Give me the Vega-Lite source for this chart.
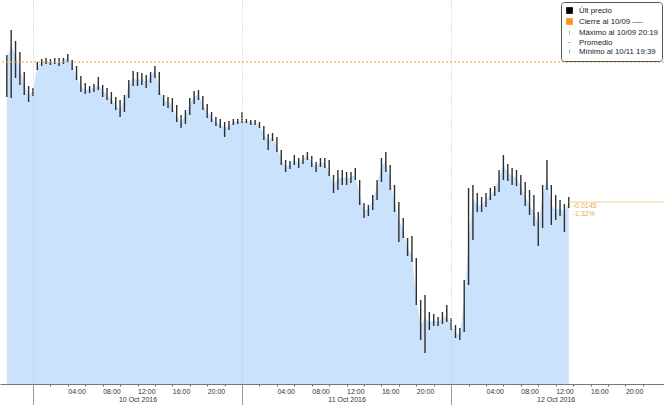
{
  "$schema": "https://vega.github.io/schema/vega-lite/v6.json",
  "width": 664,
  "height": 384,
  "autosize": {"type": "none"},
  "padding": {"left": 0, "right": 0, "top": 0, "bottom": 21},
  "background": "white",
  "config": {"view": {"stroke": null}, "font": "Liberation Sans"},
  "datasets": {
    "px": [
      {"t":"2016-10-09T21:00","h":1.0992,"l":1.0950,"c":1.0987},
      {"t":"2016-10-09T21:30","h":1.1017,"l":1.0949,"c":1.1002},
      {"t":"2016-10-09T22:00","h":1.1006,"l":1.0969,"c":1.0992},
      {"t":"2016-10-09T22:30","h":1.0995,"l":1.0962,"c":1.0977},
      {"t":"2016-10-09T23:00","h":1.0975,"l":1.0952,"c":1.0962},
      {"t":"2016-10-09T23:30","h":1.0961,"l":1.0945,"c":1.0952},
      {"t":"2016-10-10T00:00","h":1.0959,"l":1.0951,"c":1.0956},
      {"t":"2016-10-10T00:30","h":1.0985,"l":1.0977,"c":1.0981},
      {"t":"2016-10-10T01:00","h":1.0988,"l":1.0981,"c":1.0985},
      {"t":"2016-10-10T01:30","h":1.0989,"l":1.0983,"c":1.0986},
      {"t":"2016-10-10T02:00","h":1.0988,"l":1.0982,"c":1.0985},
      {"t":"2016-10-10T02:30","h":1.0989,"l":1.0983,"c":1.0986},
      {"t":"2016-10-10T03:00","h":1.0989,"l":1.0981,"c":1.0984},
      {"t":"2016-10-10T03:30","h":1.0989,"l":1.0983,"c":1.0987},
      {"t":"2016-10-10T04:00","h":1.0993,"l":1.0985,"c":1.0989},
      {"t":"2016-10-10T04:30","h":1.0987,"l":1.0977,"c":1.0981},
      {"t":"2016-10-10T05:00","h":1.0981,"l":1.0967,"c":1.0971},
      {"t":"2016-10-10T05:30","h":1.0971,"l":1.0955,"c":1.0961},
      {"t":"2016-10-10T06:00","h":1.0964,"l":1.0953,"c":1.0957},
      {"t":"2016-10-10T06:30","h":1.0961,"l":1.0954,"c":1.0958},
      {"t":"2016-10-10T07:00","h":1.0963,"l":1.0955,"c":1.0959},
      {"t":"2016-10-10T07:30","h":1.0970,"l":1.0957,"c":1.0962},
      {"t":"2016-10-10T08:00","h":1.0962,"l":1.0950,"c":1.0957},
      {"t":"2016-10-10T08:30","h":1.0959,"l":1.0947,"c":1.0952},
      {"t":"2016-10-10T09:00","h":1.0955,"l":1.0943,"c":1.0948},
      {"t":"2016-10-10T09:30","h":1.0950,"l":1.0937,"c":1.0942},
      {"t":"2016-10-10T10:00","h":1.0947,"l":1.0930,"c":1.0937},
      {"t":"2016-10-10T10:30","h":1.0952,"l":1.0935,"c":1.0947},
      {"t":"2016-10-10T11:00","h":1.0967,"l":1.0949,"c":1.0962},
      {"t":"2016-10-10T11:30","h":1.0976,"l":1.0961,"c":1.0969},
      {"t":"2016-10-10T12:00","h":1.0975,"l":1.0961,"c":1.0967},
      {"t":"2016-10-10T12:30","h":1.0974,"l":1.0962,"c":1.0968},
      {"t":"2016-10-10T13:00","h":1.0972,"l":1.0959,"c":1.0965},
      {"t":"2016-10-10T13:30","h":1.0975,"l":1.0964,"c":1.0971},
      {"t":"2016-10-10T14:00","h":1.0981,"l":1.0969,"c":1.0977},
      {"t":"2016-10-10T14:30","h":1.0975,"l":1.0952,"c":1.0959},
      {"t":"2016-10-10T15:00","h":1.0952,"l":1.0941,"c":1.0947},
      {"t":"2016-10-10T15:30","h":1.0950,"l":1.0939,"c":1.0945},
      {"t":"2016-10-10T16:00","h":1.0949,"l":1.0935,"c":1.0941},
      {"t":"2016-10-10T16:30","h":1.0942,"l":1.0925,"c":1.0931},
      {"t":"2016-10-10T17:00","h":1.0932,"l":1.0919,"c":1.0925},
      {"t":"2016-10-10T17:30","h":1.0937,"l":1.0923,"c":1.0932},
      {"t":"2016-10-10T18:00","h":1.0949,"l":1.0932,"c":1.0943},
      {"t":"2016-10-10T18:30","h":1.0956,"l":1.0943,"c":1.0951},
      {"t":"2016-10-10T19:00","h":1.0957,"l":1.0947,"c":1.0952},
      {"t":"2016-10-10T19:30","h":1.0951,"l":1.0937,"c":1.0943},
      {"t":"2016-10-10T20:00","h":1.0943,"l":1.0929,"c":1.0935},
      {"t":"2016-10-10T20:30","h":1.0935,"l":1.0925,"c":1.0929},
      {"t":"2016-10-10T21:00","h":1.0930,"l":1.0921,"c":1.0925},
      {"t":"2016-10-10T21:30","h":1.0928,"l":1.0919,"c":1.0923},
      {"t":"2016-10-10T22:00","h":1.0925,"l":1.0910,"c":1.0919},
      {"t":"2016-10-10T22:30","h":1.0926,"l":1.0917,"c":1.0921},
      {"t":"2016-10-10T23:00","h":1.0928,"l":1.0922,"c":1.0925},
      {"t":"2016-10-10T23:30","h":1.0928,"l":1.0923,"c":1.0926},
      {"t":"2016-10-11T00:00","h":1.0935,"l":1.0924,"c":1.0926},
      {"t":"2016-10-11T00:30","h":1.0928,"l":1.0924,"c":1.0926},
      {"t":"2016-10-11T01:00","h":1.0927,"l":1.0922,"c":1.0925},
      {"t":"2016-10-11T01:30","h":1.0927,"l":1.0922,"c":1.0924},
      {"t":"2016-10-11T02:00","h":1.0925,"l":1.0919,"c":1.0922},
      {"t":"2016-10-11T02:30","h":1.0921,"l":1.0907,"c":1.0913},
      {"t":"2016-10-11T03:00","h":1.0913,"l":1.0897,"c":1.0907},
      {"t":"2016-10-11T03:30","h":1.0914,"l":1.0906,"c":1.0910},
      {"t":"2016-10-11T04:00","h":1.0910,"l":1.0895,"c":1.0901},
      {"t":"2016-10-11T04:30","h":1.0897,"l":1.0882,"c":1.0887},
      {"t":"2016-10-11T05:00","h":1.0887,"l":1.0875,"c":1.0881},
      {"t":"2016-10-11T05:30","h":1.0886,"l":1.0878,"c":1.0882},
      {"t":"2016-10-11T06:00","h":1.0892,"l":1.0882,"c":1.0887},
      {"t":"2016-10-11T06:30","h":1.0889,"l":1.0879,"c":1.0884},
      {"t":"2016-10-11T07:00","h":1.0892,"l":1.0883,"c":1.0889},
      {"t":"2016-10-11T07:30","h":1.0895,"l":1.0887,"c":1.0891},
      {"t":"2016-10-11T08:00","h":1.0891,"l":1.0880,"c":1.0885},
      {"t":"2016-10-11T08:30","h":1.0885,"l":1.0875,"c":1.0880},
      {"t":"2016-10-11T09:00","h":1.0889,"l":1.0880,"c":1.0885},
      {"t":"2016-10-11T09:30","h":1.0889,"l":1.0879,"c":1.0884},
      {"t":"2016-10-11T10:00","h":1.0887,"l":1.0871,"c":1.0875},
      {"t":"2016-10-11T10:30","h":1.0872,"l":1.0854,"c":1.0862},
      {"t":"2016-10-11T11:00","h":1.0877,"l":1.0857,"c":1.0869},
      {"t":"2016-10-11T11:30","h":1.0877,"l":1.0862,"c":1.0869},
      {"t":"2016-10-11T12:00","h":1.0875,"l":1.0862,"c":1.0869},
      {"t":"2016-10-11T12:30","h":1.0875,"l":1.0864,"c":1.0870},
      {"t":"2016-10-11T13:00","h":1.0879,"l":1.0867,"c":1.0872},
      {"t":"2016-10-11T13:30","h":1.0867,"l":1.0842,"c":1.0852},
      {"t":"2016-10-11T14:00","h":1.0844,"l":1.0829,"c":1.0837},
      {"t":"2016-10-11T14:30","h":1.0842,"l":1.0831,"c":1.0837},
      {"t":"2016-10-11T15:00","h":1.0852,"l":1.0837,"c":1.0847},
      {"t":"2016-10-11T15:30","h":1.0867,"l":1.0847,"c":1.0861},
      {"t":"2016-10-11T16:00","h":1.0889,"l":1.0865,"c":1.0882},
      {"t":"2016-10-11T16:30","h":1.0895,"l":1.0875,"c":1.0885},
      {"t":"2016-10-11T17:00","h":1.0882,"l":1.0857,"c":1.0867},
      {"t":"2016-10-11T17:30","h":1.0862,"l":1.0835,"c":1.0845},
      {"t":"2016-10-11T18:00","h":1.0845,"l":1.0805,"c":1.0827},
      {"t":"2016-10-11T18:30","h":1.0829,"l":1.0809,"c":1.0817},
      {"t":"2016-10-11T19:00","h":1.0809,"l":1.0791,"c":1.0799},
      {"t":"2016-10-11T19:30","h":1.0811,"l":1.0785,"c":1.0792},
      {"t":"2016-10-11T20:00","h":1.0789,"l":1.0742,"c":1.0749},
      {"t":"2016-10-11T20:30","h":1.0747,"l":1.0707,"c":1.0722},
      {"t":"2016-10-11T21:00","h":1.0752,"l":1.0694,"c":1.0729},
      {"t":"2016-10-11T21:30","h":1.0735,"l":1.0717,"c":1.0725},
      {"t":"2016-10-11T22:00","h":1.0733,"l":1.0721,"c":1.0727},
      {"t":"2016-10-11T22:30","h":1.0730,"l":1.0721,"c":1.0725},
      {"t":"2016-10-11T23:00","h":1.0735,"l":1.0723,"c":1.0729},
      {"t":"2016-10-11T23:30","h":1.0742,"l":1.0725,"c":1.0731},
      {"t":"2016-10-12T00:00","h":1.0729,"l":1.0717,"c":1.0722},
      {"t":"2016-10-12T00:30","h":1.0722,"l":1.0709,"c":1.0714},
      {"t":"2016-10-12T01:00","h":1.0719,"l":1.0707,"c":1.0712},
      {"t":"2016-10-12T01:30","h":1.0767,"l":1.0715,"c":1.0747},
      {"t":"2016-10-12T02:00","h":1.0859,"l":1.0762,"c":1.0807},
      {"t":"2016-10-12T02:30","h":1.0862,"l":1.0807,"c":1.0849},
      {"t":"2016-10-12T03:00","h":1.0854,"l":1.0835,"c":1.0842},
      {"t":"2016-10-12T03:30","h":1.0850,"l":1.0835,"c":1.0842},
      {"t":"2016-10-12T04:00","h":1.0854,"l":1.0840,"c":1.0847},
      {"t":"2016-10-12T04:30","h":1.0859,"l":1.0847,"c":1.0852},
      {"t":"2016-10-12T05:00","h":1.0861,"l":1.0851,"c":1.0857},
      {"t":"2016-10-12T05:30","h":1.0877,"l":1.0855,"c":1.0869},
      {"t":"2016-10-12T06:00","h":1.0892,"l":1.0867,"c":1.0882},
      {"t":"2016-10-12T06:30","h":1.0883,"l":1.0866,"c":1.0875},
      {"t":"2016-10-12T07:00","h":1.0879,"l":1.0862,"c":1.0871},
      {"t":"2016-10-12T07:30","h":1.0877,"l":1.0861,"c":1.0869},
      {"t":"2016-10-12T08:00","h":1.0872,"l":1.0852,"c":1.0861},
      {"t":"2016-10-12T08:30","h":1.0865,"l":1.0841,"c":1.0851},
      {"t":"2016-10-12T09:00","h":1.0857,"l":1.0832,"c":1.0842},
      {"t":"2016-10-12T09:30","h":1.0852,"l":1.0821,"c":1.0835},
      {"t":"2016-10-12T10:00","h":1.0835,"l":1.0801,"c":1.0822},
      {"t":"2016-10-12T10:30","h":1.0862,"l":1.0819,"c":1.0852},
      {"t":"2016-10-12T11:00","h":1.0887,"l":1.0857,"c":1.0869},
      {"t":"2016-10-12T11:30","h":1.0862,"l":1.0822,"c":1.0842},
      {"t":"2016-10-12T12:00","h":1.0852,"l":1.0827,"c":1.0837},
      {"t":"2016-10-12T12:30","h":1.0847,"l":1.0831,"c":1.0839},
      {"t":"2016-10-12T13:00","h":1.0843,"l":1.0815,"c":1.0835},
      {"t":"2016-10-12T13:30","h":1.0850,"l":1.0839,"c":1.0845}
    ],
    "last": [{"t":"2016-10-12T13:30","t2":"2016-10-13T00:26","p":1.0845}],
    "lbl": [
      {"t":"2016-10-12T13:30","p":1.0841,"s":"-0.0145"},
      {"t":"2016-10-12T13:30","p":1.0833,"s":"-1.32%"}
    ],
    "leg": [
      {"k":"Últ precio","t":"2016-10-10T12:00","p":1.0700},
      {"k":"Cierre al 10/09 ----","t":"2016-10-10T12:00","p":1.0700},
      {"k":"Máximo al 10/09 20:19","t":"2016-10-10T12:00","p":1.0700},
      {"k":"Promedio","t":"2016-10-10T12:00","p":1.0700},
      {"k":"Mínimo al 10/11 19:39","t":"2016-10-10T12:00","p":1.0700}
    ]
  },
  "resolve": {"axis": {"x": "independent"}},
  "layer": [
    {
      "data": {"name": "px"},
      "mark": {"type": "area", "color": "#cae2fb"},
      "encoding": {
        "x": {
          "field": "t", "type": "temporal",
          "scale": {"domain": ["2016-10-09T20:13", "2016-10-13T00:26"]},
          "axis": {
            "orient": "bottom", "title": null,
            "values": ["2016-10-10T02:00","2016-10-10T04:00","2016-10-10T06:00","2016-10-10T08:00","2016-10-10T10:00","2016-10-10T12:00","2016-10-10T14:00","2016-10-10T16:00","2016-10-10T18:00","2016-10-10T20:00","2016-10-10T22:00","2016-10-11T02:00","2016-10-11T04:00","2016-10-11T06:00","2016-10-11T08:00","2016-10-11T10:00","2016-10-11T12:00","2016-10-11T14:00","2016-10-11T16:00","2016-10-11T18:00","2016-10-11T20:00","2016-10-11T22:00","2016-10-12T02:00","2016-10-12T04:00","2016-10-12T06:00","2016-10-12T08:00","2016-10-12T10:00","2016-10-12T12:00","2016-10-12T14:00","2016-10-12T16:00","2016-10-12T18:00","2016-10-12T20:00","2016-10-12T22:00"],
            "labelExpr": "hours(datum.value)%4==0 ? timeFormat(datum.value,'%H:%M') : ''",
            "labelAlign": "left", "labelFontSize": 7, "labelColor": "#333",
            "labelPadding": 1, "labelOverlap": false, "labelFlush": false,
            "domainColor": "#777", "tickColor": "#666", "tickSize": 2,
            "grid": false
          }
        },
        "y": {"field": "c", "type": "quantitative", "scale": {"domain": [1.0663, 1.1047], "nice": false, "zero": false}, "axis": null},
        "y2": {"datum": 1.0663}
      }
    },
    {
      "data": {"name": "px"},
      "mark": {"type": "rule", "color": "#2e2e2e", "strokeWidth": 1.4},
      "encoding": {
        "x": {
          "field": "t", "type": "temporal",
          "axis": {
            "orient": "bottom", "title": null,
            "values": ["2016-10-10T00:00", "2016-10-11T00:00", "2016-10-12T00:00"],
            "labels": false, "domain": false, "tickSize": 21, "tickColor": "#999",
            "grid": true, "gridColor": "#c4c4c4", "gridDash": [1, 2], "zindex": 1
          }
        },
        "y": {"field": "l", "type": "quantitative", "axis": null},
        "y2": {"field": "h"}
      }
    },
    {
      "data": {"values": [{}]},
      "mark": {"type": "rule", "color": "#f39a30", "strokeDash": [2, 2], "strokeWidth": 1},
      "encoding": {"y": {"datum": 1.0985, "type": "quantitative", "axis": null}}
    },
    {
      "data": {"name": "last"},
      "mark": {"type": "rule", "color": "#f4cd88", "strokeWidth": 1},
      "encoding": {
        "x": {
          "field": "t", "type": "temporal",
          "axis": {
            "orient": "bottom", "title": null,
            "values": ["2016-10-10T12:00", "2016-10-11T12:00", "2016-10-12T12:00"],
            "format": "%d %b %Y", "ticks": false, "domain": false, "grid": false,
            "labelPadding": 11, "labelFontSize": 7, "labelColor": "#333",
            "labelFlush": false, "labelOverlap": false, "labelAlign": "center"
          }
        },
        "x2": {"field": "t2"},
        "y": {"field": "p", "type": "quantitative", "axis": null}
      }
    },
    {
      "data": {"name": "lbl"},
      "mark": {"type": "text", "align": "left", "dx": 4, "fontSize": 7, "color": "#e9a94c"},
      "encoding": {
        "x": {"field": "t", "type": "temporal", "axis": null},
        "y": {"field": "p", "type": "quantitative", "axis": null},
        "text": {"field": "s"}
      }
    },
    {
      "data": {"name": "leg"},
      "mark": {"type": "point", "filled": true, "opacity": 0},
      "encoding": {
        "x": {"field": "t", "type": "temporal", "axis": null},
        "y": {"field": "p", "type": "quantitative", "axis": null},
        "shape": {
          "field": "k", "type": "nominal",
          "scale": {
            "domain": ["Últ precio", "Cierre al 10/09 ----", "Máximo al 10/09 20:19", "Promedio", "Mínimo al 10/11 19:39"],
            "range": ["square", "square", "M-0.12,-0.6H0.12V0.6H-0.12Z", "M-0.5,-0.1H0.5V0.1H-0.5Z", "M-0.12,-0.6H0.12V0.6H-0.12Z"]
          },
          "legend": {
            "title": null, "orient": "top-right", "offset": 2,
            "symbolOpacity": 1, "symbolSize": 45, "labelFontSize": 7.8, "labelColor": "#222",
            "padding": 4, "rowPadding": -2.3, "labelOffset": 5,
            "strokeColor": "#555", "fillColor": "white", "cornerRadius": 3
          }
        },
        "color": {
          "field": "k", "type": "nominal",
          "scale": {
            "domain": ["Últ precio", "Cierre al 10/09 ----", "Máximo al 10/09 20:19", "Promedio", "Mínimo al 10/11 19:39"],
            "range": ["#000000", "#f7941d", "#9a9a9a", "#9a9a9a", "#9a9a9a"]
          },
          "legend": {
            "title": null, "orient": "top-right", "offset": 2,
            "symbolOpacity": 1, "symbolSize": 45, "labelFontSize": 7.8, "labelColor": "#222",
            "padding": 4, "rowPadding": -2.3, "labelOffset": 5,
            "strokeColor": "#555", "fillColor": "white", "cornerRadius": 3
          }
        }
      }
    }
  ]
}
